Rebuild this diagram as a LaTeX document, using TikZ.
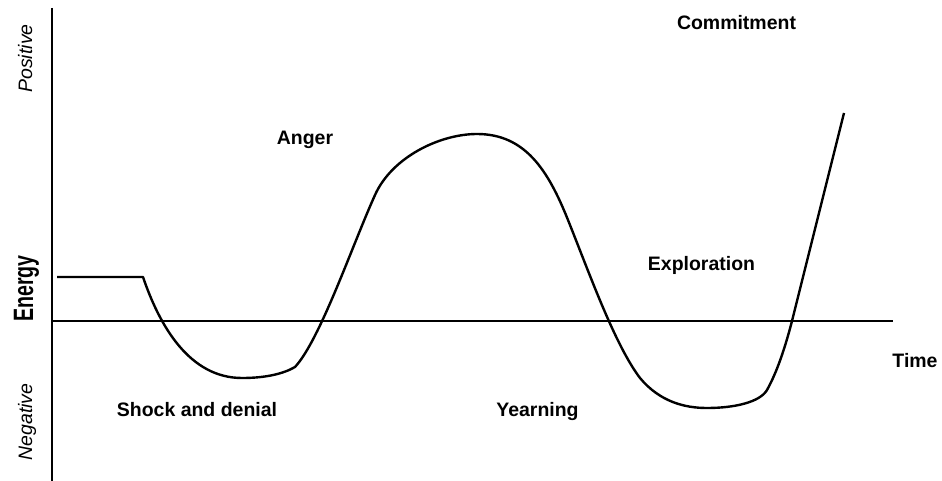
\documentclass[tikz,border=0pt]{standalone}
\usepackage{fontspec}
\setmainfont{Liberation Sans}
\begin{document}
\begin{tikzpicture}[x=0.75pt,y=-0.75pt,
  axis/.style={line width=1.4pt,black},
  curve/.style={line width=1.8pt,black,line join=round},
  lbl/.style={font=\fontsize{14.6}{17}\selectfont\bfseries,anchor=base,inner sep=0pt},
  sidelbl/.style={font=\fontsize{14.6}{17}\selectfont\itshape,anchor=base,rotate=90,inner sep=0pt}]
\useasboundingbox (0,0) rectangle (942,481);
% axes
\coordinate (ytop) at (52,8);
\coordinate (ybot) at (52,481);
\coordinate (xl) at (52,321);
\coordinate (xr) at (893,321);
\draw[axis] (ytop) -- (ybot);
\draw[axis] (xl) -- (xr);
% curve
\draw[curve] (57,277) -- (143,277)
  .. controls (160,327) and (190,378) .. (242,378)
  .. controls (265,378) and (283,374) .. (295,367)
  .. controls (320,340) and (352,246) .. (375,195)
  .. controls (392,157) and (440,134) .. (477,134)
  .. controls (525,134) and (548,170) .. (568,220)
  .. controls (590,275) and (615,345) .. (640,378)
  .. controls (660,402) and (685,408) .. (707,408)
  .. controls (735,408) and (760,402) .. (767,390)
  .. controls (777,372) and (785,348) .. (792,321)
  -- (844,113);
% labels
\node[lbl] (commit) at (736.5,30) {Commitment};
\node[lbl] (anger) at (305,145) {Anger};
\node[lbl] (explor) at (701.5,270) {Exploration};
\node[lbl] (time) at (915,367) {Time};
\node[lbl] (shock) at (197,416) {Shock and denial};
\node[lbl] (yearn) at (537.5,416) {Yearning};
\node[sidelbl] (pos) at (32,58.5) {Positive};
\node[sidelbl] (neg) at (32,422) {Negative};
\node[font=\fontsize{21}{24}\selectfont\bfseries,anchor=base,rotate=90,inner sep=0pt] (energy) at (33,288.5) {\scalebox{0.7}[1]{Energy}};
\end{tikzpicture}
\end{document}
